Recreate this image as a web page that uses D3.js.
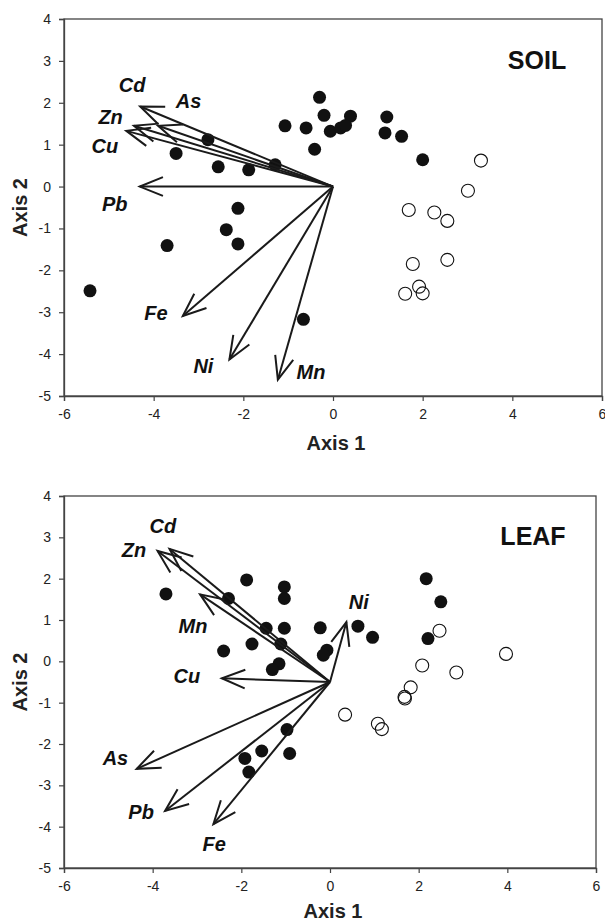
<!DOCTYPE html>
<html><head><meta charset="utf-8">
<script src="https://cdn.jsdelivr.net/npm/d3@7"></script>
<style>body{margin:0;background:#fff}</style>
</head><body>
<svg id="c" width="605" height="924"></svg>
<script>
// ---------- DATA ----------
const xTicks = [-6, -4, -2, 0, 2, 4, 6];
const yTicks = [4, 3, 2, 1, 0, -1, -2, -3, -4, -5];

// SOIL panel
const soilFilled = [
  [-0.30, 2.13], [-0.20, 1.70], [0.39, 1.68], [-1.07, 1.45], [-0.60, 1.40],
  [-0.06, 1.32], [0.17, 1.40], [0.28, 1.46], [1.20, 1.66], [1.16, 1.28],
  [1.53, 1.20], [-0.41, 0.89], [2.00, 0.64], [-2.79, 1.12], [-3.50, 0.79],
  [-2.56, 0.47], [-1.88, 0.40], [-1.29, 0.52], [-2.12, -0.52], [-2.38, -1.03],
  [-2.12, -1.37], [-3.70, -1.41], [-5.42, -2.49], [-0.66, -3.17]
];
const soilOpen = [
  [3.30, 0.62], [3.01, -0.10], [1.69, -0.56], [2.26, -0.62], [2.55, -0.82],
  [1.78, -1.85], [2.55, -1.75], [1.92, -2.39], [1.61, -2.56], [2.00, -2.55]
];
const soilOrigin = [0, 0];
const soilVectors = [
  { name: "Cd", x: -4.30, y: 1.91, lx: -4.48, ly: 2.42 },
  { name: "As", x: -3.90, y: 1.45, lx: -3.22, ly: 2.05 },
  { name: "Zn", x: -4.44, y: 1.45, lx: -4.96, ly: 1.66 },
  { name: "Cu", x: -4.61, y: 1.33, lx: -5.09, ly: 0.98 },
  { name: "Pb", x: -4.31, y: 0.00, lx: -4.87, ly: -0.42 },
  { name: "Fe", x: -3.35, y: -3.09, lx: -3.95, ly: -3.01 },
  { name: "Ni", x: -2.31, y: -4.13, lx: -2.89, ly: -4.29 },
  { name: "Mn", x: -1.23, y: -4.61, lx: -0.49, ly: -4.43 }
];

// LEAF panel
const leafFilled = [
  [-3.70, 1.63], [-2.29, 1.52], [-1.88, 1.97], [-1.03, 1.80], [-1.03, 1.52],
  [-1.44, 0.80], [-1.03, 0.80], [-1.76, 0.42], [-1.11, 0.42], [-2.40, 0.25],
  [-1.15, -0.06], [-1.30, -0.20], [-0.22, 0.81], [-0.07, 0.27], [-0.15, 0.15],
  [0.63, 0.85], [0.96, 0.58], [2.17, 2.00], [2.50, 1.44], [2.21, 0.55],
  [-0.97, -1.65], [-1.54, -2.17], [-0.91, -2.23], [-1.92, -2.35], [-1.83, -2.68]
];
const leafOpen = [
  [3.97, 0.18], [2.47, 0.74], [2.08, -0.10], [2.85, -0.27], [1.82, -0.63],
  [1.68, -0.86], [1.69, -0.90], [0.34, -1.29], [1.08, -1.51], [1.17, -1.64]
];
const leafOrigin = [0, -0.5];
const leafVectors = [
  { name: "Cd", x: -3.62, y: 2.72, lx: -3.77, ly: 3.27 },
  { name: "Zn", x: -3.89, y: 2.67, lx: -4.42, ly: 2.70 },
  { name: "Mn", x: -2.93, y: 1.62, lx: -3.09, ly: 0.85 },
  { name: "Cu", x: -2.44, y: -0.41, lx: -3.23, ly: -0.36 },
  { name: "Ni", x: 0.37, y: 0.95, lx: 0.65, ly: 1.43 },
  { name: "As", x: -4.36, y: -2.60, lx: -4.84, ly: -2.34 },
  { name: "Pb", x: -3.72, y: -3.62, lx: -4.26, ly: -3.65 },
  { name: "Fe", x: -2.63, y: -3.94, lx: -2.61, ly: -4.41 }
];

// ---------- DRAWING ----------
const svg = d3.select("#c");
const FONT = "Arial, 'Liberation Sans', Helvetica, sans-serif";

function panel(cfg) {
  const x = d3.scaleLinear().domain([-6, 6]).range([cfg.left, cfg.right]);
  const y = d3.scaleLinear().domain([-5, 4]).range([cfg.bottom, cfg.top]);
  const g = svg.append("g");

  // frame
  g.append("rect")
    .attr("x", cfg.left).attr("y", cfg.top)
    .attr("width", cfg.right - cfg.left).attr("height", cfg.bottom - cfg.top)
    .attr("fill", "none").attr("stroke", "#444").attr("stroke-width", 1.3);

  const xa = g.append("g").attr("transform", `translate(0,${cfg.bottom})`)
    .call(d3.axisBottom(x).tickValues(xTicks).tickSize(5).tickPadding(8).tickFormat(d3.format("d")));
  const ya = g.append("g").attr("transform", `translate(${cfg.left},0)`)
    .call(d3.axisLeft(y).tickValues(yTicks).tickSize(5).tickPadding(8).tickFormat(d3.format("d")));
  [xa, ya].forEach(a => {
    a.select(".domain").attr("stroke", "#444").attr("stroke-width", 1.3);
    a.selectAll(".tick line").attr("stroke", "#444").attr("stroke-width", 1.2);
    a.selectAll(".tick text").attr("font-family", FONT).attr("font-size", 14).attr("fill", "#222");
  });
  xa.selectAll(".tick text").text(d => d < 0 ? "-" + Math.abs(d) : d);
  ya.selectAll(".tick text").text(d => d < 0 ? "-" + Math.abs(d) : d);

  // axis titles
  g.append("text").attr("x", (cfg.left + cfg.right) / 2 + 3).attr("y", cfg.bottom + cfg.titleGap)
    .attr("text-anchor", "middle").attr("font-family", FONT).attr("font-weight", "bold")
    .attr("font-size", 20).attr("fill", "#222").text("Axis 1");
  g.append("text")
    .attr("transform", `translate(27,${(cfg.top + cfg.bottom) / 2}) rotate(-90)`)
    .attr("text-anchor", "middle").attr("font-family", FONT).attr("font-weight", "bold")
    .attr("font-size", 20).attr("fill", "#222").text("Axis 2");

  // panel title
  g.append("text").attr("x", cfg.titleX).attr("y", y(3) + 8)
    .attr("text-anchor", "middle").attr("font-family", FONT).attr("font-weight", "bold")
    .attr("font-size", 25).attr("fill", "#111").text(cfg.title);

  // points
  g.append("g").selectAll("circle").data(cfg.filled).join("circle")
    .attr("cx", d => x(d[0])).attr("cy", d => y(d[1])).attr("r", 6.5)
    .attr("fill", "#111");
  g.append("g").selectAll("circle").data(cfg.open).join("circle")
    .attr("cx", d => x(d[0])).attr("cy", d => y(d[1])).attr("r", 6.5)
    .attr("fill", "none").attr("stroke", "#111").attr("stroke-width", 1.1);

  // vectors
  const ox = x(cfg.origin[0]), oy = y(cfg.origin[1]);
  const vg = g.append("g");
  const headLen = 25, headAng = 22 * Math.PI / 180;
  cfg.vectors.forEach(v => {
    const tx = x(v.x), ty = y(v.y);
    const th = Math.atan2(ty - oy, tx - ox);
    vg.append("line").attr("x1", ox).attr("y1", oy).attr("x2", tx).attr("y2", ty)
      .attr("stroke", "#1a1a1a").attr("stroke-width", 2);
    const p = d3.path();
    p.moveTo(tx - headLen * Math.cos(th - headAng), ty - headLen * Math.sin(th - headAng));
    p.lineTo(tx, ty);
    p.lineTo(tx - headLen * Math.cos(th + headAng), ty - headLen * Math.sin(th + headAng));
    vg.append("path").attr("d", p.toString()).attr("fill", "none")
      .attr("stroke", "#1a1a1a").attr("stroke-width", 2).attr("stroke-linejoin", "miter");
    vg.append("text").attr("x", x(v.lx)).attr("y", y(v.ly))
      .attr("dy", "0.35em").attr("text-anchor", "middle")
      .attr("font-family", FONT).attr("font-weight", "bold").attr("font-style", "italic")
      .attr("font-size", 20).attr("fill", "#111").text(v.name);
  });
}

panel({ left: 64, right: 602, top: 19, bottom: 396, title: "SOIL", titleX: 537, titleGap: 54,
  filled: soilFilled, open: soilOpen, origin: soilOrigin, vectors: soilVectors });
panel({ left: 64, right: 596, top: 496, bottom: 868, title: "LEAF", titleX: 533, titleGap: 50,
  filled: leafFilled, open: leafOpen, origin: leafOrigin, vectors: leafVectors });
</script>
</body></html>
